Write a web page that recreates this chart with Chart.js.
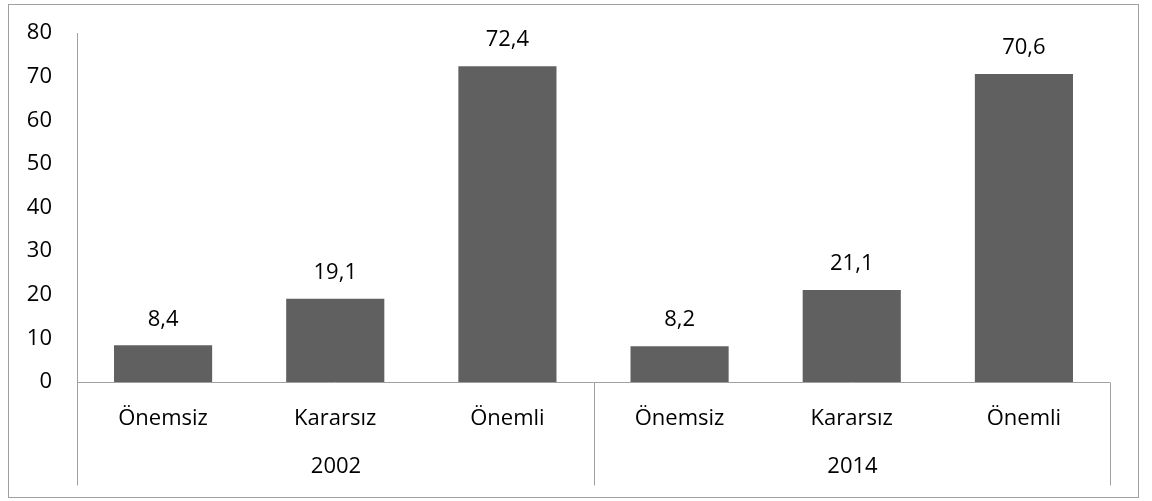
<!DOCTYPE html>
<html>
<head>
<meta charset="utf-8">
<script src="https://cdn.jsdelivr.net/npm/chart.js@4"></script>
<style>
  html, body { margin: 0; padding: 0; background: #fff; }
  #wrap { width: 1152px; height: 501px; position: relative; }
</style>
</head>
<body>
<div id="wrap"><canvas id="chart"></canvas></div>
<script>
// chart data
const categories = ['Önemsiz', 'Kararsız', 'Önemli', 'Önemsiz', 'Kararsız', 'Önemli'];
const groups = ['2002', '2014'];
const groupSize = 3;
const values = [8.4, 19.1, 72.4, 8.2, 21.1, 70.6];
const yTicks = [0, 10, 20, 30, 40, 50, 60, 70, 80];

const FONT = "'Open Sans', 'Noto Sans', sans-serif";
const FONT_SIZE = 22;
const lineColor = '#a0a0a0';

// frame, zero line, two-level axis and value labels
const decorations = {
    id: 'decorations',
    afterDraw(chart) {
        const ctx = chart.ctx;
        const x = chart.scales.x;
        const y = chart.scales.y;
        const area = chart.chartArea;
        const y0 = Math.round(y.getPixelForValue(0)) + 0.5;
        const axisBottom = y0 + 103;

        ctx.save();
        ctx.strokeStyle = lineColor;
        ctx.lineWidth = 1;

        // outer frame
        ctx.strokeRect(8.5, 4.5, 1130, 493);

        // zero line
        ctx.beginPath();
        ctx.moveTo(area.left, y0);
        ctx.lineTo(area.right, y0);
        ctx.stroke();

        // group separators
        const step = x.getPixelForValue(1) - x.getPixelForValue(0);
        const seps = [];
        for (let g = 0; g <= groups.length; g++) {
            seps.push(Math.round(x.getPixelForValue(g * groupSize) - step / 2) + 0.5);
        }
        seps.forEach(sx => {
            ctx.beginPath();
            ctx.moveTo(sx, y0);
            ctx.lineTo(sx, axisBottom);
            ctx.stroke();
        });

        ctx.fillStyle = '#000';
        ctx.font = FONT_SIZE + 'px ' + FONT;
        ctx.textAlign = 'center';
        ctx.textBaseline = 'middle';

        // category labels
        categories.forEach((c, i) => {
            ctx.fillText(c, x.getPixelForValue(i), y0 + 36);
        });

        // group labels
        groups.forEach((g, gi) => {
            ctx.fillText(g, (seps[gi] + seps[gi + 1]) / 2, y0 + 84);
        });

        // value labels
        const meta = chart.getDatasetMeta(0);
        meta.data.forEach((bar, i) => {
            ctx.fillText(values[i].toFixed(1).replace('.', ','), bar.x, bar.y - 26);
        });

        ctx.restore();
    }
};

new Chart(document.getElementById('chart'), {
    type: 'bar',
    data: {
        labels: categories,
        datasets: [{
            data: values,
            backgroundColor: '#606060',
            borderWidth: 0,
            barPercentage: 0.57,
            categoryPercentage: 1
        }]
    },
    options: {
        responsive: true,
        maintainAspectRatio: false,
        animation: false,
        layout: { padding: { top: 33, right: 42, bottom: 119, left: 0 } },
        plugins: {
            legend: { display: false },
            tooltip: { enabled: false }
        },
        scales: {
            x: { display: false },
            y: {
                min: 0,
                max: 80,
                afterFit(scale) {
                    scale.width = 77;
                    scale.paddingTop = 0;
                    scale.paddingBottom = 0;
                },
                afterBuildTicks(scale) { scale.ticks = yTicks.map(v => ({ value: v })); },
                grid: { display: false, drawTicks: false },
                border: { display: true, color: lineColor, width: 1 },
                ticks: {
                    color: '#000',
                    padding: 25,
                    font: { family: FONT, size: FONT_SIZE }
                }
            }
        }
    },
    plugins: [decorations]
});
</script>
</body>
</html>
